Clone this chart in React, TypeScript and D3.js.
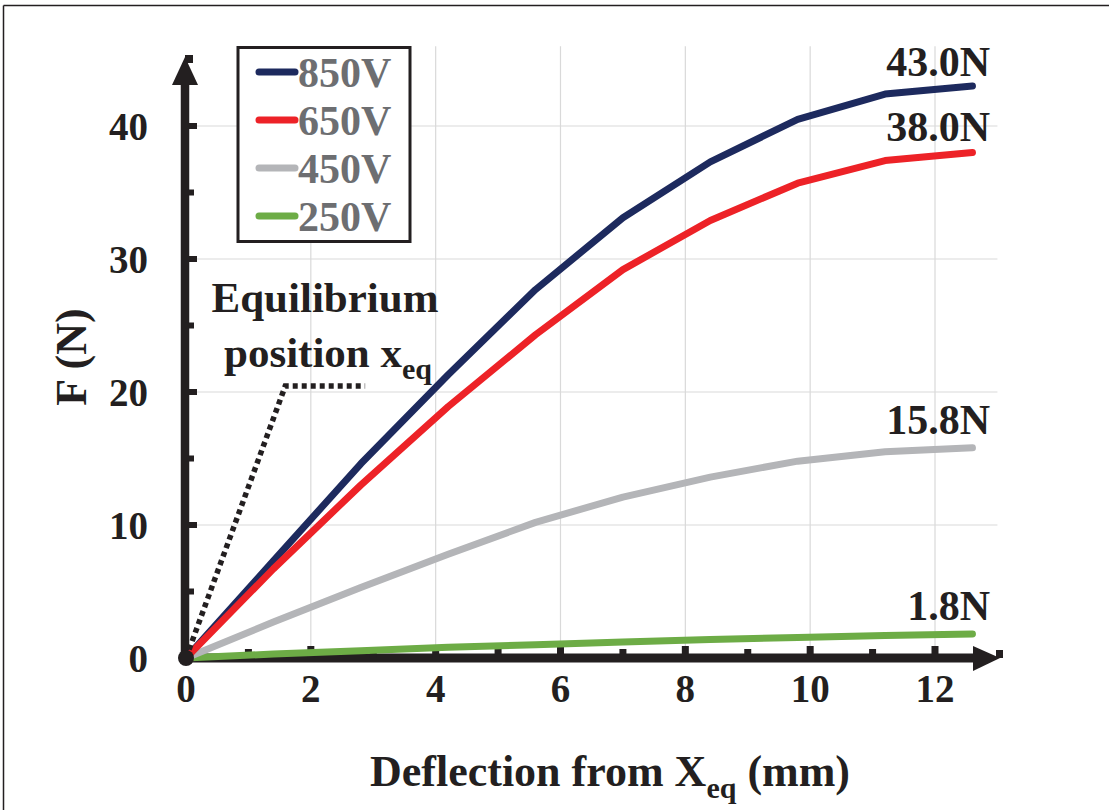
import React from 'react';
import * as d3 from 'd3';

// deflection samples (mm)
const deflection = [0, 1.4, 2.8, 4.2, 5.6, 7.0, 8.4, 9.8, 11.2, 12.6];
// force readings (N) per drive voltage
const f850 = [0, 7.3, 14.6, 21.3, 27.7, 33.1, 37.3, 40.5, 42.4, 43.0];
const f650 = [0, 6.7, 13.0, 18.9, 24.3, 29.2, 32.9, 35.7, 37.4, 38.0];
const f450 = [0, 2.7, 5.3, 7.8, 10.2, 12.1, 13.6, 14.8, 15.5, 15.8];
const f250 = [0, 0.3, 0.55, 0.8, 1.0, 1.2, 1.4, 1.55, 1.7, 1.8];

const seriesNames = ['850V', '650V', '450V', '250V'];
const seriesColors = ['#1d2a5e', '#ed2227', '#b4b5b8', '#6dac46'];
const endLabels = ['43.0N', '38.0N', '15.8N', '1.8N'];

const xTicks = [0, 2, 4, 6, 8, 10, 12];
const yTicks = [0, 10, 20, 30, 40];
const xMinor = [1, 3, 5, 7, 9, 11];
const yMinor = [5, 15, 25, 35];

// equilibrium pointer path (data coords)
const eqX = [0, 1.59, 2.87];
const eqY = [0, 20.45, 20.45];

const W = 1109;
const H = 810;
const ink = '#231f20';
const font = '"Liberation Serif", "Times New Roman", serif';

const App = () => {
  const x = d3.scaleLinear().domain([0, 12]).range([186, 935]);
  const y = d3.scaleLinear().domain([0, 40]).range([658, 126]);

  const allSeries = [f850, f650, f450, f250];
  const line = d3.line<number>()
    .x((_, i) => x(deflection[i]))
    .y(d => y(d));

  const eqLine = d3.line<number>()
    .x((_, i) => x(eqX[i]))
    .y(d => y(d));

  const drawOrder = [3, 2, 0, 1];
  const ax = x(0) - 1;
  const ay = y(0);
  const labelOffsets = [-10, -12, -14, -14];

  return (
    <svg width={W} height={H} style={{ position: 'absolute', left: 0, top: 0 }}
      fontFamily={font} fontWeight="bold">
      <rect width={W} height={H} fill="#fff" />
      {/* frame */}
      <line x1={3.5} x2={W} y1={5.5} y2={5.5} stroke={ink} strokeWidth={1.5} />
      <line x1={3.5} x2={3.5} y1={5.5} y2={H} stroke={ink} strokeWidth={1.5} />

      {/* gridlines */}
      {xTicks.slice(1).map(t => (
        <line key={'gx' + t} x1={x(t)} x2={x(t)} y1={y(0)} y2={y(46)} stroke="#d9d9d9" strokeWidth={1.2} />
      ))}
      {yTicks.slice(1).map(t => (
        <line key={'gy' + t} x1={ax} x2={x(13)} y1={y(t)} y2={y(t)} stroke="#d9d9d9" strokeWidth={1.2} />
      ))}

      {/* axes */}
      <line x1={ax} x2={ax} y1={ay} y2={84} stroke={ink} strokeWidth={8.5} />
      <line x1={ax} x2={975} y1={ay} y2={ay} stroke={ink} strokeWidth={9} />
      <path d={`M${ax - 13},85 L${ax + 13},85 L${ax},57 Z`} fill={ink} />
      <rect x={ax} y={55} width={8} height={8} fill={ink} />
      <path d={`M973,${ay - 12} L973,${ay + 13} L1000,${ay} Z`} fill={ink} />
      <rect x={996} y={ay - 8} width={7} height={8} fill={ink} />

      {yTicks.slice(1).map(t => (
        <rect key={'ty' + t} x={ax} y={y(t) - 3} width={12} height={6} fill={ink} />
      ))}
      {yMinor.map(t => (
        <rect key={'my' + t} x={ax} y={y(t) - 3} width={9} height={6} fill={ink} />
      ))}
      {xTicks.slice(1).map(t => (
        <rect key={'tx' + t} x={x(t) - 3.5} y={ay - 12} width={7} height={12} fill={ink} />
      ))}
      {xMinor.map(t => (
        <rect key={'mx' + t} x={x(t) - 3.5} y={ay - 9} width={7} height={9} fill={ink} />
      ))}

      {/* tick labels */}
      {yTicks.map(t => (
        <text key={'ly' + t} x={148} y={y(t)} dy="0.35em" textAnchor="end" fontSize={39} fill={ink}>{t}</text>
      ))}
      {xTicks.map(t => (
        <text key={'lx' + t} x={x(t)} y={702} textAnchor="middle" fontSize={39} fill={ink}>{t}</text>
      ))}

      {/* series */}
      {drawOrder.map(i => (
        <path key={seriesNames[i]} d={line(allSeries[i]) || ''} fill="none"
          stroke={seriesColors[i]} strokeWidth={7} strokeLinecap="round" strokeLinejoin="round" />
      ))}

      {/* equilibrium pointer */}
      <path d={eqLine(eqY) || ''} fill="none" stroke={ink} strokeWidth={5.5} strokeDasharray="5 4" />
      <circle cx={ax + 1} cy={ay} r={8} fill={ink} />
      <text x={325} y={312} textAnchor="middle" fontSize={43} fill={ink}>Equilibrium</text>
      <text x={224} y={367} fontSize={43} fill={ink}>
        position x<tspan fontSize={30} dy={12}>eq</tspan>
      </text>

      {/* end labels */}
      {allSeries.map((s, i) => (
        <text key={'e' + i} x={990} y={y(s[s.length - 1]) + labelOffsets[i]} textAnchor="end"
          fontSize={42} fill={ink}>{endLabels[i]}</text>
      ))}

      {/* legend */}
      <rect x={238} y={47.5} width={172} height={194} fill="#fff" stroke={ink} strokeWidth={3} />
      {seriesNames.map((n, i) => (
        <g key={'lg' + n}>
          <line x1={259} x2={295} y1={72 + i * 48} y2={72 + i * 48} stroke={seriesColors[i]}
            strokeWidth={7} strokeLinecap="round" />
          <text x={298} y={72 + i * 48} dy="0.36em" fontSize={42} fill="#6d6e71">{n}</text>
        </g>
      ))}

      {/* axis titles */}
      <text x={610} y={786} textAnchor="middle" fontSize={44} fill={ink}>
        Deflection from X<tspan fontSize={30} dy={12}>eq</tspan><tspan dy={-12}> (mm)</tspan>
      </text>
      <text transform="translate(86,357) rotate(-90)" textAnchor="middle" fontSize={44} fill={ink}>F (N)</text>
    </svg>
  );
};

export default App;
